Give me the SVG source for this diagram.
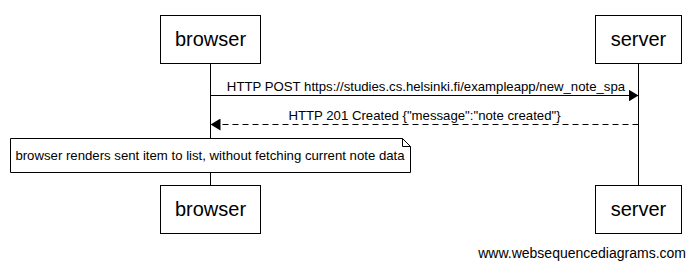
<svg xmlns="http://www.w3.org/2000/svg" width="696" height="268" viewBox="0 0 696 268">
  <style>
    .box { fill: #fff; stroke: #000; stroke-width: 1; }
    .life { stroke: #000; stroke-width: 1; }
    .name { font-family: "Liberation Sans", Arial, sans-serif; font-size: 20px; fill: #000; text-anchor: middle; }
    .lbl { font-family: "Liberation Sans", Arial, sans-serif; font-size: 13.2px; fill: #000; text-anchor: middle; }
    .msg { stroke: #000; stroke-width: 1; fill: none; }
    .dash { stroke-dasharray: 6 4; }
    .mark { font-family: "Liberation Sans", Arial, sans-serif; font-size: 14px; fill: #000; }
  </style>
  <defs>
    <marker id="head" markerWidth="10" markerHeight="12" refX="10" refY="6" orient="auto" markerUnits="userSpaceOnUse">
      <path d="M0,0 L10,6 L0,12 Z" fill="#000"/>
    </marker>
  </defs>
  <rect width="696" height="268" fill="#fff"/>

  <!-- lifelines -->
  <g id="lifelines">
    <line class="life" x1="210.5" y1="63" x2="210.5" y2="185"/>
    <line class="life" x1="638.5" y1="63" x2="638.5" y2="185"/>
  </g>

  <g id="browser-top">
    <rect class="box" x="160.5" y="15.5" width="100" height="48"/>
    <text class="name" x="210.5" y="46">browser</text>
  </g>
  <g id="server-top">
    <rect class="box" x="595.5" y="15.5" width="86" height="48"/>
    <text class="name" x="638.5" y="46">server</text>
  </g>

  <g id="connectors">
    <line class="msg" x1="210.5" y1="95.5" x2="638.5" y2="95.5" marker-end="url(#head)"/>
    <text class="lbl" x="426" y="91">HTTP POST https://studies.cs.helsinki.fi/exampleapp/new_note_spa</text>
    <line class="msg dash" x1="638.5" y1="124.5" x2="210.5" y2="124.5" marker-end="url(#head)"/>
    <text class="lbl" x="424.5" y="120">HTTP 201 Created {"message":"note created"}</text>
  </g>

  <g id="note">
    <path class="box" d="M10.5,138.5 H402.5 L410.5,146.5 V172.5 H10.5 Z"/>
    <path class="msg" d="M402.5,138.5 V146.5 H410.5"/>
    <text class="lbl" x="210" y="160">browser renders sent item to list, without fetching current note data</text>
  </g>

  <g id="browser-bottom">
    <rect class="box" x="160.5" y="185.5" width="100" height="48"/>
    <text class="name" x="210.5" y="216">browser</text>
  </g>
  <g id="server-bottom">
    <rect class="box" x="595.5" y="185.5" width="86" height="48"/>
    <text class="name" x="638.5" y="216">server</text>
  </g>

  <text class="mark" x="686" y="258" text-anchor="end">www.websequencediagrams.com</text>
</svg>
